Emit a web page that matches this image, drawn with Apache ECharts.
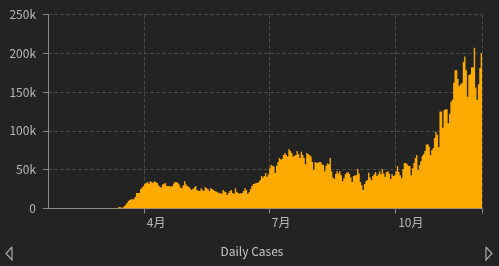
<!DOCTYPE html>
<html>
<head>
<meta charset="utf-8">
<script src="https://cdn.jsdelivr.net/npm/echarts@6/dist/echarts.min.js"></script>
<style>
html,body{margin:0;padding:0;background:#232323;}
#c{width:499px;height:266px;}
</style>
</head>
<body>
<div id="c"></div>
<script>
// Dates: 2020-01-22 .. 2020-12-02 (one category per day)
const startDate = '2020-01-22';
const dayCount = 316;
const seriesName = 'Daily Cases';
const yTicks = [0, 50000, 100000, 150000, 200000, 250000];

// Daily new cases by month
const janCases = [1,0,1,0,3,0,0,0,1,1];
const febCases = [1,0,3,0,0,0,0,0,0,0, 1,0,1,0,0,0,0,0,0,0, 18,0,0,0,0,6,1,3,8];
const marCases = [8,23,20,31,68,45,140,116,65,376, 322,382,1500,2000,1000,1200,3000,4500,7000,9700,
  11000,12000,12000,12000,14800,20000,20000,20000,25000,27000, 29000];
const aprCases = [31600,33000,34000,32000,35000,34000,33000,35000,34000,33000,
  30000,28000,27000,31000,32000,33000,29000,29000,29000,28000,
  29000,32000,34000,34000,33000,31000,27000,26000,30000,35000];
const mayCases = [31000,29000,28000,26000,24000,25000,27000,29000,24000,23000,
  22500,26000,24000,22500,27700,26000,25000,22500,26000,25000,
  24000,22500,22000,21000,20000,19500,19000,24000,22000,21000, 17400];
const junCases = [20000,22500,24000,20000,19000,26000,21000,20000,19000,19500,
  20000,22500,26000,24000,19000,21000,25000,29000,31600,32000,
  33000,33000,34000,36700,42000,40000,42000,45700,41000,44000];
const julCases = [52000,56000,55000,54000,45700,55000,60000,65000,63000,64000,
  69000,71500,69000,67000,76700,74000,71500,67000,68000,69000,
  74000,70000,65000,73000,69000,65000,57000,71500,70000,69000, 67000];
const augCases = [60000,49600,60000,59000,59000,60000,60000,57000,56000,48000,
  55000,58000,57000,65000,48000,40000,38000,44500,48000,45000,
  48000,43000,35000,39000,44000,46000,47000,44500,40000,34000, 42000];
const sepCases = [43000,43000,51000,45000,34000,30000,24000,31600,35000,36700,
  46000,40000,36700,42000,44000,47000,42000,44000,48000,44000,
  51000,45000,41000,47000,48000,45000,38000,44500,42000,43000];
const octCases = [48000,54800,47000,43000,39000,51000,58600,58600,57000,55000,
  54800,43000,52000,58600,65000,69000,49600,56000,61000,67700,
  70000,74000,82000,83000,80000,69000,75000,78000,91000,98600, 95000];
const novCases = [79000,125000,125000,104000,127000,128000,128000,110000,122000,138000,
  140000,162000,178000,178000,167000,158000,160000,162000,189000,196000,
  178000,144000,172000,173000,182000,182000,207000,156000,140000,160000];
const decCases = [181000,200000];

const cases = [].concat(janCases, febCases, marCases, aprCases, mayCases, junCases,
  julCases, augCases, sepCases, octCases, novCases, decCases);

const dates = [];
{
  const d0 = new Date(startDate + 'T00:00:00Z');
  for (let i = 0; i < dayCount; i++) {
    const d = new Date(d0.getTime() + i * 86400000);
    dates.push(d.toISOString().slice(0, 10));
  }
}
const quarterStart = (idx, val) => /-(04|07|10)-01$/.test(dates[idx]);

const chart = echarts.init(document.getElementById('c'), null, {renderer: 'canvas'});
chart.setOption({
  backgroundColor: '#232323',
  animation: false,
  textStyle: {fontFamily: 'Noto Sans CJK SC, Noto Sans, sans-serif'},
  legend: {
    data: [seriesName],
    bottom: 4,
    left: 'center',
    itemWidth: 0,
    itemHeight: 0,
    itemGap: 0,
    textStyle: {color: '#c6c6c6', fontSize: 12}
  },
  grid: {left: 48, right: 17, top: 14.5, bottom: 57.5, containLabel: false},
  xAxis: {
    type: 'category',
    data: dates,
    boundaryGap: true,
    axisLine: {lineStyle: {color: '#8a8a8a'}},
    axisTick: {show: true, interval: quarterStart, length: 5, lineStyle: {color: '#8a8a8a'}},
    axisLabel: {
      interval: quarterStart,
      color: '#b8b8b8',
      fontSize: 12,
      align: 'left',
      padding: [0, 0, 0, 2],
      formatter: v => parseInt(v.slice(5, 7), 10) + '月'
    },
    splitLine: {show: true, interval: quarterStart, lineStyle: {color: '#4a4a4a', type: 'dashed'}}
  },
  yAxis: {
    type: 'value',
    min: yTicks[0],
    max: yTicks[yTicks.length - 1],
    interval: yTicks[1] - yTicks[0],
    axisLine: {show: true, lineStyle: {color: '#8a8a8a'}},
    axisTick: {show: true, length: 5, lineStyle: {color: '#8a8a8a'}},
    axisLabel: {
      color: '#b8b8b8',
      fontSize: 12,
      margin: 12,
      formatter: v => v === 0 ? '0' : (v / 1000) + 'k'
    },
    splitLine: {show: true, lineStyle: {color: '#4a4a4a', type: 'dashed'}}
  },
  series: [{
    name: seriesName,
    type: 'bar',
    data: cases,
    barCategoryGap: '0%',
    itemStyle: {color: '#ffaa00'},
    large: true,
    largeThreshold: 50
  }],
  graphic: [
    {type: 'polyline', shape: {points: [[12, 247], [6, 253.5], [12, 260], [12, 247]]},
     style: {stroke: '#a8a8a8', fill: null, lineWidth: 1.2}},
    {type: 'polyline', shape: {points: [[486, 247], [492, 253.5], [486, 260], [486, 247]]},
     style: {stroke: '#a8a8a8', fill: null, lineWidth: 1.2}}
  ]
});
</script>
</body>
</html>
